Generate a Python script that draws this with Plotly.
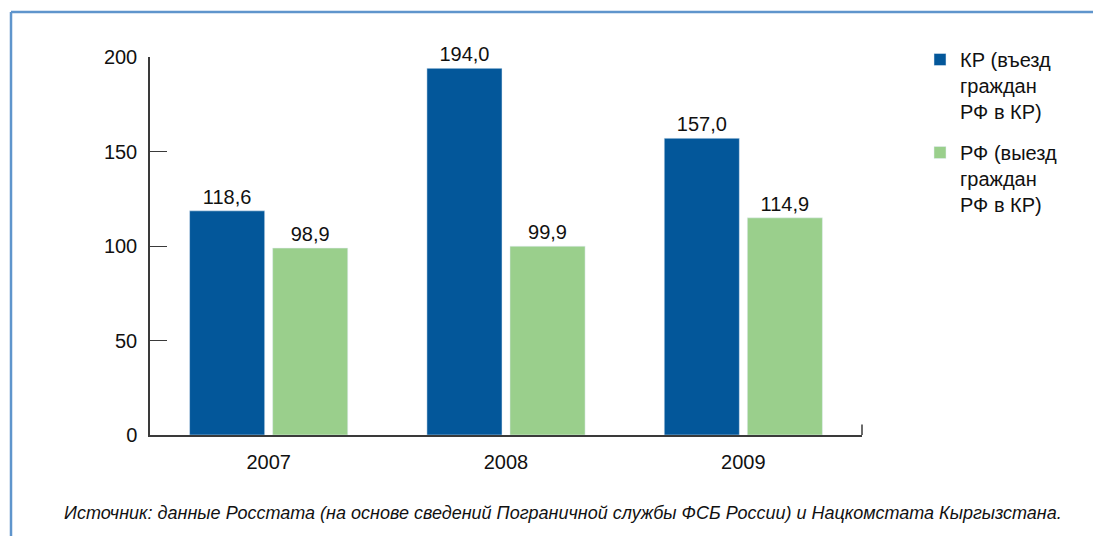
import plotly.graph_objects as go

years = ["2007", "2008", "2009"]
kr_values = [118.6, 194.0, 157.0]
rf_values = [98.9, 99.9, 114.9]
kr_name = "КР (въезд<br>граждан<br>РФ в КР)"
rf_name = "РФ (выезд<br>граждан<br>РФ в КР)"
y_ticks = [0, 50, 100, 150, 200]
source_note = "Источник: данные Росстата (на основе сведений Пограничной службы ФСБ России) и Нацкомстата Кыргызстана."

FONT = "Liberation Sans, Arial, Helvetica, sans-serif"
BLUE = "#03579a"
GREEN = "#9acf8c"
FRAME = "#5f95cc"
AXIS = "#3a3a3a"

# page body has an 8px default margin; work in screen coords and shift
OFF = 8

fig = go.Figure()
fig.add_trace(go.Bar(
    x=years, y=kr_values, name=kr_name, marker_color=BLUE,
    texttemplate="%{y:.1f}", textposition="outside",
    textfont=dict(size=20, color="#111111", family=FONT),
    legendgroup="a", cliponaxis=False,
))
fig.add_trace(go.Bar(
    x=years, y=rf_values, name=rf_name, marker_color=GREEN,
    texttemplate="%{y:.1f}", textposition="outside",
    textfont=dict(size=20, color="#111111", family=FONT),
    legendgroup="b", cliponaxis=False,
))

W, H = 1101 - OFF, 536 - OFF
L, R, T, B = 150, 862, 57, 435
pw, ph = R - L, B - T

def px(x):
    return (x - L) / pw

def py(y):
    return (B - y) / ph

fig.update_layout(
    width=W, height=H,
    margin=dict(l=L - OFF, r=1101 - R, t=T - OFF, b=536 - B, pad=0),
    paper_bgcolor="white", plot_bgcolor="white",
    separators=", ",
    barmode="group", bargap=0.30, bargroupgap=0.096,
    font=dict(family=FONT, size=20, color="#111111"),
    showlegend=True,
    legend=dict(
        x=px(920), y=py(40), xanchor="left", yanchor="top",
        font=dict(size=20, family=FONT, color="#111111"),
        valign="top", tracegroupgap=12, bgcolor="rgba(0,0,0,0)",
        traceorder="grouped",
    ),
    xaxis=dict(
        showline=True, linecolor=AXIS, linewidth=1.5,
        ticks="", showgrid=False, zeroline=False,
        tickfont=dict(size=20, family=FONT, color="#111111"),
        ticklabelstandoff=8,
    ),
    yaxis=dict(
        range=[0, 200], tickvals=y_ticks,
        showline=True, linecolor=AXIS, linewidth=1.5,
        ticks="inside", ticklen=17, tickcolor=AXIS, tickwidth=1,
        showgrid=False, zeroline=False,
        tickfont=dict(size=20, family=FONT, color="#111111"),
        ticklabelstandoff=7,
    ),
    shapes=[
        dict(type="line", xref="paper", yref="paper",
             x0=px(11), x1=px(1101), y0=py(12), y1=py(12),
             line=dict(color=FRAME, width=2.5)),
        dict(type="line", xref="paper", yref="paper",
             x0=px(11), x1=px(11), y0=py(12), y1=py(536),
             line=dict(color=FRAME, width=2.5)),
        dict(type="line", xref="paper", yref="y",
             x0=1, x1=1, y0=0, y1=5.5,
             line=dict(color=AXIS, width=1.5)),
    ],
    annotations=[
        dict(text=source_note, xref="paper", yref="paper",
             x=px(563), y=py(513), xanchor="center", yanchor="middle",
             showarrow=False,
             font=dict(size=18, family=FONT, color="#111111", style="italic")),
    ],
)

fig.write_html("out.html")
